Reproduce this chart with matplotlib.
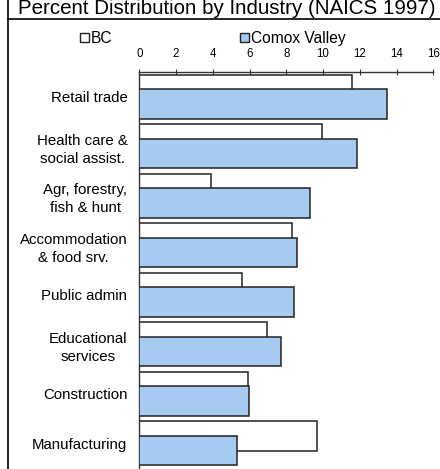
import matplotlib
matplotlib.use("Agg")
import matplotlib.pyplot as plt
from matplotlib.patches import Patch
from matplotlib.lines import Line2D
import numpy as np

plt.rcParams['font.family'] = ['Liberation Sans', 'DejaVu Sans']

title = "Percent Distribution by Industry (NAICS 1997)"
categories = ["Retail trade", "Health care &\nsocial assist.", "Agr, forestry,\nfish & hunt",
              "Accommodation\n& food srv.", "Public admin", "Educational\nservices",
              "Construction", "Manufacturing"]
bc = [11.6, 9.95, 3.9, 8.3, 5.6, 6.95, 5.9, 9.65]
comox = [13.5, 11.85, 9.3, 8.6, 8.4, 7.7, 5.95, 5.3]
series_names = ["BC", "Comox Valley"]
xticks = [0, 2, 4, 6, 8, 10, 12, 14, 16]

W, H = 440, 469
fig = plt.figure(figsize=(W / 100, H / 100), dpi=100)

ax = fig.add_axes([139.3 / W, 1 / H, (433.3 - 139.3) / W, (468 - 72) / H])
y = np.arange(len(categories))
off = 0.145
h = 0.6
edge = '#222222'
ax.barh(y - off, bc, height=h, color='white', edgecolor=edge, linewidth=1.1, zorder=2)
ax.barh(y + off, comox, height=h, color='#A6CAF0', edgecolor=edge, linewidth=1.1, zorder=3)

ax.set_xlim(0, 16)
ax.set_ylim(len(categories) - 0.5, -0.5)
ax.xaxis.tick_top()
ax.set_xticks(xticks)
ax.set_xticklabels([str(t) for t in xticks], fontsize=8.3)
ax.tick_params(axis='x', direction='inout', length=5, width=0.8, color='#333333', pad=6)
ax.set_yticks(y)
ax.set_yticklabels(categories, fontsize=10.8, multialignment='center', linespacing=1.37)
ax.tick_params(axis='y', length=0, pad=8.5)
for s in ['right', 'bottom']:
    ax.spines[s].set_visible(False)
for s in ['top', 'left']:
    ax.spines[s].set_color('#333333')
    ax.spines[s].set_linewidth(1.0)

# legend
handles = [Patch(facecolor='white', edgecolor=edge, linewidth=1.0),
           Patch(facecolor='#A6CAF0', edgecolor=edge, linewidth=1.0)]
fig.legend(handles, series_names, loc='center left', bbox_to_anchor=(80 / W, 1 - 38.5 / H),
           ncol=2, frameon=False, fontsize=11.2, handlelength=0.58, handleheight=0.6,
           handletextpad=0.12, columnspacing=8.2, borderpad=0, borderaxespad=0)

# frame lines and clipped title
fig.add_artist(Line2D([8 / W, 8 / W], [0, 1], color='black', linewidth=1.2, transform=fig.transFigure))
fig.add_artist(Line2D([8 / W, 1], [1 - 19 / H, 1 - 19 / H], color='black', linewidth=1.2, transform=fig.transFigure))
fig.text(227 / W, 1 - 14 / H, title, ha='center', va='baseline', fontsize=14.8)

fig.savefig("out.png", dpi=100)
